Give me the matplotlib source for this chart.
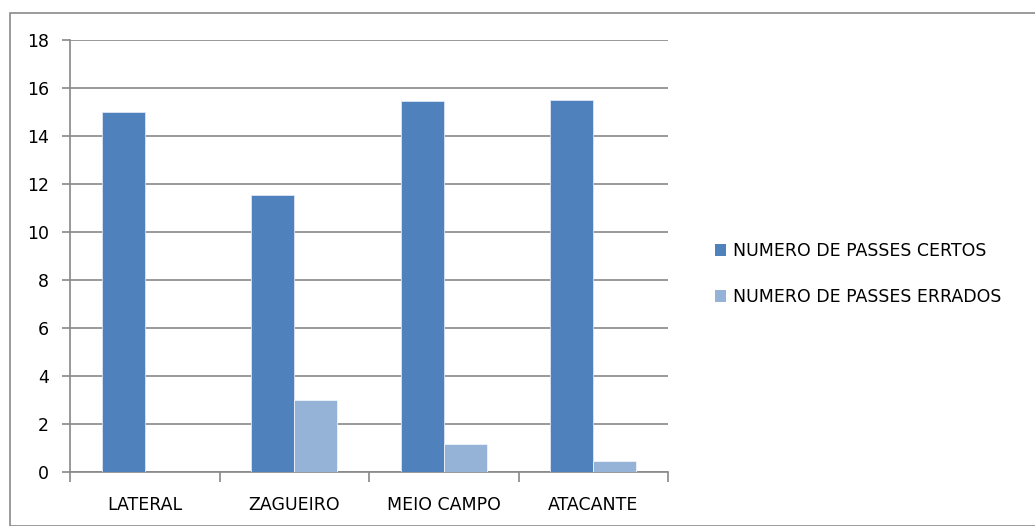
import numpy as np
import matplotlib
matplotlib.use("Agg")
import matplotlib.pyplot as plt
from matplotlib.patches import Rectangle, Patch

# --- dados ---
posicoes = ["LATERAL", "ZAGUEIRO", "MEIO CAMPO", "ATACANTE"]
passes_certos = [15.0, 11.55, 15.45, 15.5]
passes_errados = [0.0, 3.0, 1.15, 0.45]
legenda = ["NUMERO DE PASSES CERTOS", "NUMERO DE PASSES ERRADOS"]

COR_CERTOS = "#4F81BD"
COR_ERRADOS = "#95B3D7"
COR_GRADE = "#888888"
TAM_FONTE = 12.5

plt.rcParams["font.family"] = ["DejaVu Sans"]

W, H = 1035, 526
fig = plt.figure(figsize=(W / 100, H / 100), dpi=100)

# moldura externa do gráfico
fig.patches.append(Rectangle((10 / W, 0), 1.2, 1 - 13 / H, transform=fig.transFigure,
                             fill=False, edgecolor="#8a8a8a", lw=1.2))

ax = fig.add_axes([70 / W, 1 - 472 / H, (668 - 70) / W, (472 - 40) / H])

x = np.arange(len(posicoes))
larg = 0.288
ax.bar(x - larg / 2, passes_certos, larg, color=COR_CERTOS,
       edgecolor="#dce6f2", linewidth=0.6, zorder=3)
ax.bar(x + larg / 2, passes_errados, larg, color=COR_ERRADOS,
       edgecolor="#eef3fa", linewidth=0.6, zorder=3)

ax.set_xlim(-0.5, len(posicoes) - 0.5)
ax.set_ylim(0, 18)
ax.set_yticks(np.arange(0, 19, 2))
ax.yaxis.grid(True, color=COR_GRADE, lw=1.2, zorder=0)
ax.set_axisbelow(True)

ax.set_xticks(x)
ax.set_xticklabels(posicoes, fontsize=TAM_FONTE)
ax.set_xticks(np.arange(-0.5, len(posicoes)), minor=True)
ax.tick_params(axis="x", which="major", length=0, pad=17)
ax.tick_params(axis="x", which="minor", length=7, color=COR_GRADE, width=1.2)
ax.tick_params(axis="y", length=6, color=COR_GRADE, width=1.2,
               labelsize=TAM_FONTE, pad=9)

for lado in ("top", "right"):
    ax.spines[lado].set_visible(False)
for lado in ("left", "bottom"):
    ax.spines[lado].set_color(COR_GRADE)
    ax.spines[lado].set_linewidth(1.2)

handles = [Patch(facecolor=COR_CERTOS, edgecolor="none"),
           Patch(facecolor=COR_ERRADOS, edgecolor="none")]
fig.legend(handles, legenda, loc="center left",
           bbox_to_anchor=(699 / W, 1 - 274 / H), frameon=False,
           fontsize=TAM_FONTE, handlelength=0.65, handleheight=0.65,
           handletextpad=0.4, labelspacing=1.6)

fig.savefig("out.png", dpi=100, facecolor="white")
